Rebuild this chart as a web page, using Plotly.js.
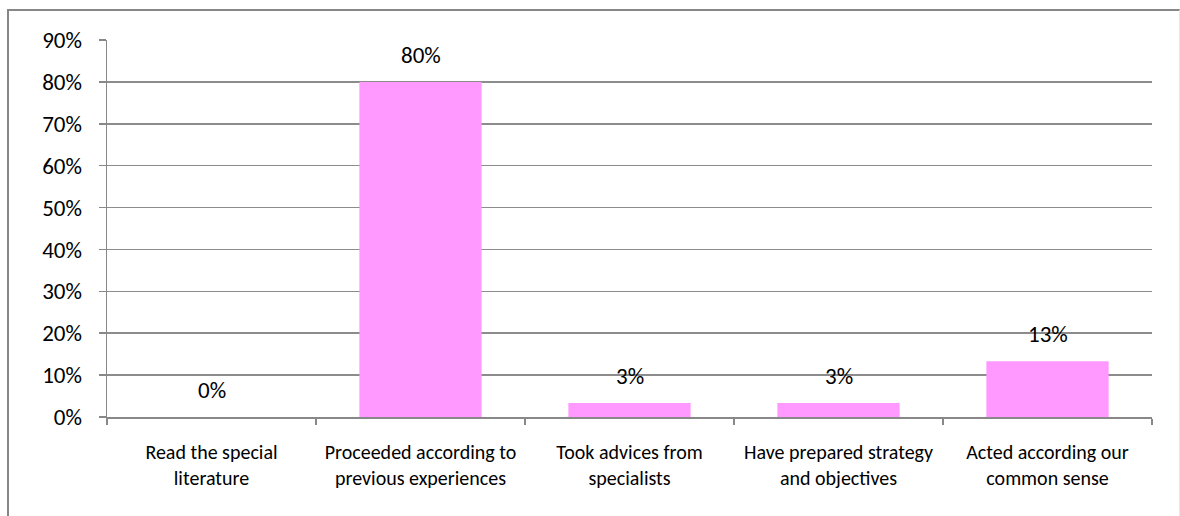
<!DOCTYPE html>
<html>
<head>
<meta charset="utf-8">
<script src="https://cdn.plot.ly/plotly-3.0.1.min.js"></script>
<style>
  html, body { margin: 0; padding: 0; background: #fff; }
  #wrap { position: relative; width: 1180px; height: 516px; overflow: hidden; }
  #frame { position: absolute; left: 7px; top: 9px; width: 1173px; height: 520px;
           border-top: 2px solid #878787; border-left: 2px solid #878787; border-right: 1px solid #e8e8e8; box-sizing: border-box; }
  #chart { position: absolute; left: 0; top: 0; width: 1180px; height: 516px; }
</style>
</head>
<body>
<div id="wrap">
  <div id="frame"></div>
  <div id="chart"></div>
</div>
<script>
const categories = [
  "Read the special<br>literature",
  "Proceeded according to<br>previous experiences",
  "Took advices from<br>specialists",
  "Have prepared strategy<br>and objectives",
  "Acted according our<br>common sense"
];
const values = [0, 0.80, 0.0333, 0.0333, 0.1333];
const valueLabels = ["0%", "80%", "3%", "3%", "13%"];
const yTickValues = [0, 0.1, 0.2, 0.3, 0.4, 0.5, 0.6, 0.7, 0.8, 0.9];

const fontFam = "Carlito, Calibri, 'Open Sans', 'Noto Sans', sans-serif";

const trace = {
  type: "bar",
  x: categories,
  y: values,
  marker: { color: "#FF99FF" },
  hoverinfo: "skip"
};

const annotations = categories.map((c, i) => ({
  x: c, y: values[i], xref: "x", yref: "y",
  text: valueLabels[i], showarrow: false,
  yanchor: "bottom", yshift: 11,
  font: { family: fontFam, size: 23, color: "#000" }
}));

const layout = {
  width: 1180, height: 516,
  margin: { l: 107, r: 28, t: 40, b: 99, pad: 0 },
  paper_bgcolor: "rgba(0,0,0,0)",
  plot_bgcolor: "rgba(0,0,0,0)",
  bargap: 0.415,
  showlegend: false,
  font: { family: fontFam, color: "#000" },
  xaxis: {
    type: "category",
    showline: true, linecolor: "#888888", linewidth: 2,
    ticks: "outside", tickson: "boundaries", ticklen: 6, tickcolor: "#888888", tickwidth: 1.5,
    tickangle: 0,
    ticklabelstandoff: 16,
    tickfont: { family: fontFam, size: 20, color: "#000" },
    showgrid: false, zeroline: false, fixedrange: true
  },
  yaxis: {
    range: [0, 0.9],
    tickvals: yTickValues,
    tickformat: ".0%",
    showline: true, linecolor: "#888888", linewidth: 1.5,
    ticks: "outside", ticklen: 7, tickcolor: "#888888", tickwidth: 1.5,
    ticklabelstandoff: 12,
    tickfont: { family: fontFam, size: 23, color: "#000" },
    showgrid: true, gridcolor: "#8c8c8c", gridwidth: 1.5,
    zeroline: false, fixedrange: true
  },
  annotations: annotations
};

Plotly.newPlot("chart", [trace], layout, { displayModeBar: false, staticPlot: true });
</script>
</body>
</html>
